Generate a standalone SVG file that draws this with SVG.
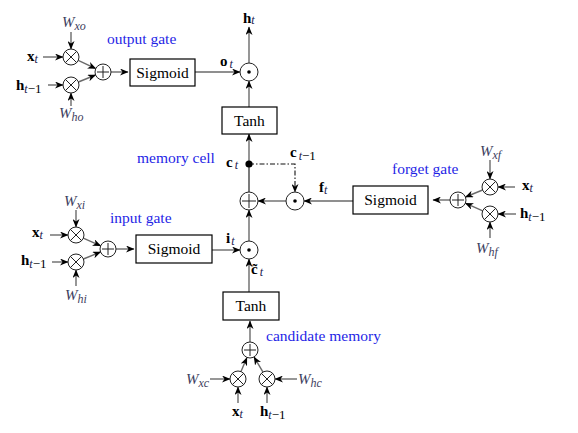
<svg xmlns="http://www.w3.org/2000/svg" width="578" height="433" viewBox="0 0 578 433" font-family="'Liberation Serif','Times New Roman',serif">
<defs>
<marker id="ah" markerWidth="9" markerHeight="7" refX="8" refY="3.5" orient="auto" markerUnits="userSpaceOnUse">
<path d="M0,0 L8.5,3.5 L0,7 L2.5,3.5 z" fill="#000"/>
</marker>
</defs>
<style>
text{font-family:"Liberation Serif","Times New Roman",serif;fill:#000}
.box{fill:#fff;stroke:#000;stroke-width:1.2}
.op{fill:#fff;stroke:#222;stroke-width:1}
.sym{stroke:#222;stroke-width:1;fill:none}
.ln{stroke:#6a6a6a;stroke-width:1.4;fill:none;marker-end:url(#ah)}
.dk{stroke:#222;stroke-width:1.2;fill:none}
.dash{stroke:#111;stroke-width:1.1;fill:none;stroke-dasharray:5 2 1.5 2;marker-end:url(#ah)}
.lbl{font-size:15.5px;text-anchor:middle}
.gate{font-size:15.5px;fill:#1f1fe6}
.b{font-weight:bold;font-size:15px}
.s{font-style:italic;font-size:12px;fill:#202050}
.w{font-style:italic;font-size:15px;fill:#404060}
.ws{font-style:italic;font-size:12px;fill:#404060}
</style>

<g id="connectors">
<!-- output gate -->
<line class="ln" x1="43" y1="57" x2="63" y2="57"/>
<line class="ln" x1="48" y1="85" x2="63" y2="85"/>
<line class="ln" x1="71" y1="32" x2="71" y2="49"/>
<line class="ln" x1="71" y1="106" x2="71" y2="93"/>
<line class="ln" x1="78.2" y1="60.4" x2="95.8" y2="68.6"/>
<line class="ln" x1="78.4" y1="82" x2="95.6" y2="75"/>
<line class="ln" x1="111" y1="72" x2="128" y2="72"/>
<line class="ln" x1="195" y1="72" x2="240" y2="72"/>
<line class="ln" x1="249" y1="63" x2="249" y2="27"/>
<line class="ln" x1="249" y1="107" x2="249" y2="81"/>
<!-- memory cell -->
<line class="ln" x1="249" y1="164" x2="249" y2="134"/>
<line class="dk" x1="249" y1="192" x2="249" y2="164"/>
<path class="dash" d="M249,164 H295 V192"/>
<line class="ln" x1="286" y1="201" x2="258" y2="201"/>
<line class="ln" x1="353" y1="201" x2="304" y2="201"/>
<!-- forget gate -->
<line class="ln" x1="450" y1="200" x2="433" y2="200"/>
<line class="ln" x1="482.6" y1="190" x2="465.4" y2="197"/>
<line class="ln" x1="482.7" y1="210.8" x2="465.3" y2="203.2"/>
<line class="ln" x1="515" y1="187" x2="498" y2="187"/>
<line class="ln" x1="516" y1="214" x2="498" y2="214"/>
<line class="ln" x1="490" y1="160" x2="490" y2="179"/>
<line class="ln" x1="490" y1="238" x2="490" y2="222"/>
<!-- input gate -->
<line class="ln" x1="50" y1="235" x2="68" y2="235"/>
<line class="ln" x1="52" y1="262" x2="68" y2="262"/>
<line class="ln" x1="76" y1="210" x2="76" y2="227"/>
<line class="ln" x1="76" y1="286" x2="76" y2="270"/>
<line class="ln" x1="83.3" y1="238.2" x2="100.7" y2="245.8"/>
<line class="ln" x1="83.4" y1="259" x2="100.6" y2="252"/>
<line class="ln" x1="116" y1="249" x2="134" y2="249"/>
<line class="ln" x1="212" y1="250" x2="240" y2="250"/>
<line class="ln" x1="249" y1="241" x2="249" y2="210"/>
<line class="ln" x1="249" y1="292" x2="249" y2="259"/>
<!-- candidate memory -->
<line class="ln" x1="250" y1="342" x2="250" y2="321"/>
<line class="ln" x1="241" y1="371.6" x2="246.9" y2="357.6"/>
<line class="ln" x1="263" y1="372.1" x2="254" y2="356.9"/>
<line class="ln" x1="210" y1="379" x2="230" y2="379"/>
<line class="ln" x1="297" y1="379" x2="275" y2="379"/>
<line class="ln" x1="238" y1="403" x2="238" y2="387"/>
<line class="ln" x1="267" y1="403" x2="267" y2="387"/>
</g>

<!-- output gate -->
<g id="og-mul-x"><circle class="op" cx="71" cy="57" r="8"/><path class="sym" d="M65.3,51.3 L76.7,62.7 M76.7,51.3 L65.3,62.7"/></g>
<g id="og-mul-h"><circle class="op" cx="71" cy="85" r="8"/><path class="sym" d="M65.3,79.3 L76.7,90.7 M76.7,79.3 L65.3,90.7"/></g>
<g id="og-add"><circle class="op" cx="103" cy="72" r="8"/><path class="sym" d="M97,72 H109 M103,66 V78"/></g>
<g id="og-sigmoid"><rect class="box" x="130" y="59" width="65" height="27"/><text class="lbl" x="162.5" y="77.5">Sigmoid</text></g>
<g id="out-prod"><circle class="op" cx="249" cy="72" r="9"/><circle cx="249" cy="72" r="1.8" fill="#000"/></g>
<g id="tanh-out"><rect class="box" x="222" y="107" width="55" height="27"/><text class="lbl" x="249.5" y="125.5">Tanh</text></g>

<!-- memory cell -->
<g id="cell-dot"><circle cx="249" cy="164" r="3.6" fill="#000"/></g>
<g id="cell-add"><circle class="op" cx="249" cy="201" r="9"/><path class="sym" d="M242,201 H256 M249,194 V208"/></g>
<g id="forget-prod"><circle class="op" cx="295" cy="201" r="9"/><circle cx="295" cy="201" r="1.8" fill="#000"/></g>

<!-- forget gate -->
<g id="fg-sigmoid"><rect class="box" x="353" y="186" width="75" height="28"/><text class="lbl" x="390.5" y="205">Sigmoid</text></g>
<g id="fg-add"><circle class="op" cx="458" cy="200" r="8"/><path class="sym" d="M452,200 H464 M458,194 V206"/></g>
<g id="fg-mul-x"><circle class="op" cx="490" cy="187" r="8"/><path class="sym" d="M484.3,181.3 L495.7,192.7 M495.7,181.3 L484.3,192.7"/></g>
<g id="fg-mul-h"><circle class="op" cx="490" cy="214" r="8"/><path class="sym" d="M484.3,208.3 L495.7,219.7 M495.7,208.3 L484.3,219.7"/></g>

<!-- input gate -->
<g id="ig-mul-x"><circle class="op" cx="76" cy="235" r="8"/><path class="sym" d="M70.3,229.3 L81.7,240.7 M81.7,229.3 L70.3,240.7"/></g>
<g id="ig-mul-h"><circle class="op" cx="76" cy="262" r="8"/><path class="sym" d="M70.3,256.3 L81.7,267.7 M81.7,256.3 L70.3,267.7"/></g>
<g id="ig-add"><circle class="op" cx="108" cy="249" r="8"/><path class="sym" d="M102,249 H114 M108,243 V255"/></g>
<g id="ig-sigmoid"><rect class="box" x="136" y="235" width="76" height="28"/><text class="lbl" x="174" y="254">Sigmoid</text></g>
<g id="in-prod"><circle class="op" cx="249" cy="250" r="9"/><circle cx="249" cy="250" r="1.8" fill="#000"/></g>

<!-- candidate memory -->
<g id="tanh-cand"><rect class="box" x="223" y="292" width="56" height="28"/><text class="lbl" x="251" y="311">Tanh</text></g>
<g id="cm-add"><circle class="op" cx="250" cy="350" r="8"/><path class="sym" d="M244,350 H256 M250,344 V356"/></g>
<g id="cm-mul-x"><circle class="op" cx="238" cy="379" r="8"/><path class="sym" d="M232.3,373.3 L243.7,384.7 M243.7,373.3 L232.3,384.7"/></g>
<g id="cm-mul-h"><circle class="op" cx="267" cy="379" r="8"/><path class="sym" d="M261.3,373.3 L272.7,384.7 M272.7,373.3 L261.3,384.7"/></g>

<!-- labels -->
<g id="labels">
<text class="gate" x="107" y="44">output gate</text>
<text class="gate" x="137" y="163">memory cell</text>
<text class="gate" x="392" y="174">forget gate</text>
<text class="gate" x="110" y="223">input gate</text>
<text class="gate" x="266" y="341">candidate memory</text>

<text x="62" y="27"><tspan class="w">W</tspan><tspan class="ws" dy="3">xo</tspan></text>
<text x="27" y="61"><tspan class="b">x</tspan><tspan class="s" dy="2">t</tspan></text>
<text x="16" y="90"><tspan class="b">h</tspan><tspan class="s" dy="3">t</tspan><tspan font-size="13">−1</tspan></text>
<text x="59" y="118"><tspan class="w">W</tspan><tspan class="ws" dy="3">ho</tspan></text>
<text x="220" y="66"><tspan class="b">o</tspan><tspan class="s" dx="2" dy="2">t</tspan></text>
<text x="243" y="23"><tspan class="b">h</tspan><tspan class="s" dy="1">t</tspan></text>

<text x="226" y="167"><tspan class="b">c</tspan><tspan class="s" dx="2" dy="2">t</tspan></text>
<text x="290" y="157"><tspan class="b">c</tspan><tspan class="s" dx="2" dy="3">t</tspan><tspan font-size="13">−1</tspan></text>
<text x="319" y="192"><tspan class="b">f</tspan><tspan class="s" dy="2">t</tspan></text>

<text x="480" y="156"><tspan class="w">W</tspan><tspan class="ws" dy="3">xf</tspan></text>
<text x="522" y="190"><tspan class="b">x</tspan><tspan class="s" dy="2">t</tspan></text>
<text x="520" y="218"><tspan class="b">h</tspan><tspan class="s" dy="3">t</tspan><tspan font-size="13">−1</tspan></text>
<text x="476" y="253"><tspan class="w">W</tspan><tspan class="ws" dy="3">hf</tspan></text>

<text x="64" y="206"><tspan class="w">W</tspan><tspan class="ws" dy="3">xi</tspan></text>
<text x="32" y="237"><tspan class="b">x</tspan><tspan class="s" dy="2">t</tspan></text>
<text x="21" y="265"><tspan class="b">h</tspan><tspan class="s" dy="3">t</tspan><tspan font-size="13">−1</tspan></text>
<text x="65" y="300"><tspan class="w">W</tspan><tspan class="ws" dy="3">hi</tspan></text>
<text x="226" y="243"><tspan class="b">i</tspan><tspan class="s" dx="1" dy="2">t</tspan></text>
<text x="251" y="274"><tspan class="b">c&#771;</tspan><tspan class="s" dx="2" dy="2">t</tspan></text>

<text x="186" y="384"><tspan class="w">W</tspan><tspan class="ws" dy="3">xc</tspan></text>
<text x="298" y="384"><tspan class="w">W</tspan><tspan class="ws" dy="3">hc</tspan></text>
<text x="232" y="416"><tspan class="b">x</tspan><tspan class="s" dy="2">t</tspan></text>
<text x="260" y="416"><tspan class="b">h</tspan><tspan class="s" dy="3">t</tspan><tspan font-size="13">−1</tspan></text>
</g>
</svg>
